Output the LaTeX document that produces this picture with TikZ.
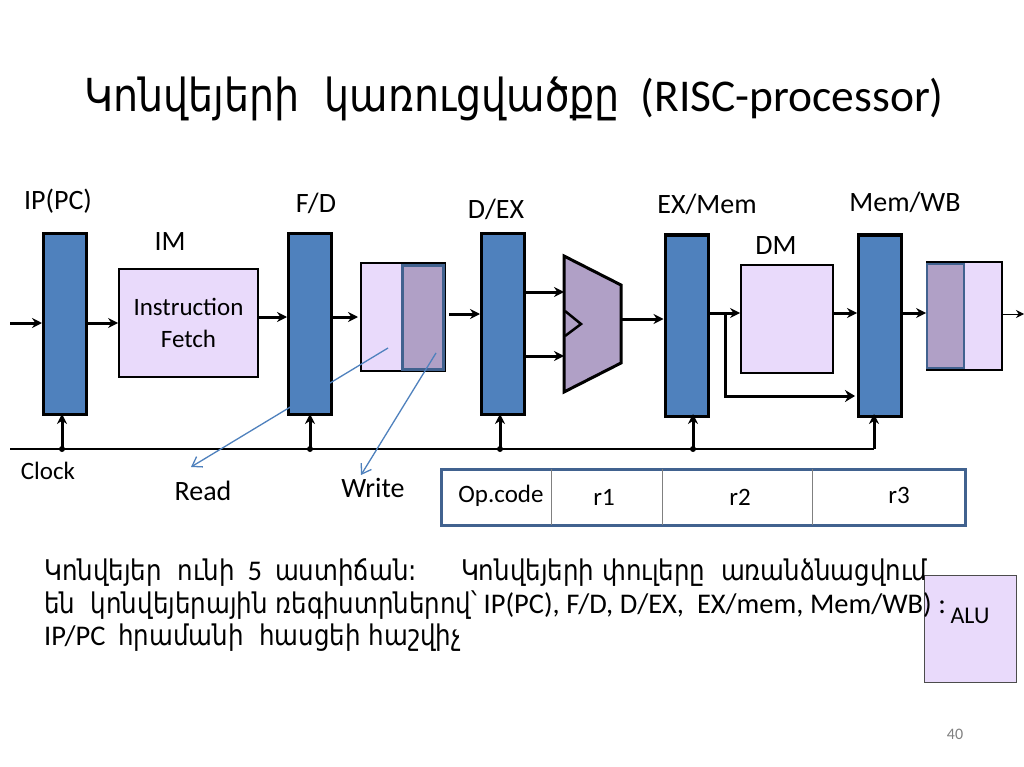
\documentclass[tikz,border=0pt]{standalone}
\usepackage{fontspec}
\usepackage{xcolor}
\setmainfont{Carlito}
\newfontfamily\armfont[FakeStretch=0.86]{DejaVu Sans}
\newfontfamily\armtitle[FakeStretch=0.87]{DejaVu Sans}
\usetikzlibrary{arrows.meta}
\definecolor{regblue}{HTML}{4F81BD}
\definecolor{memlilac}{HTML}{E9DAFB}
\definecolor{darklilac}{HTML}{B0A0C6}
\definecolor{edgeblue}{HTML}{41628F}
\tikzset{
regbox/.style={draw=black,line width=3pt,fill=regblue,minimum width=43pt,minimum height=181pt,inner sep=0pt},
membox/.style={draw=black,line width=1.8pt,fill=memlilac,inner sep=0pt,align=center,font=\fontsize{25}{30}\selectfont},
halfbox/.style={draw=edgeblue,line width=2.4pt,fill=darklilac,inner sep=0pt,minimum width=41pt,minimum height=104pt},
flow/.style={line width=3pt,-{Stealth[length=10pt,width=10pt]}},
pointer/.style={draw=regblue,line width=1.3pt,-{Straight Barb[length=9pt,width=12pt]}},
txtlab/.style={inner sep=0pt,font=\fontsize{28}{32}\selectfont},
bodytxt/.style={inner sep=0pt,anchor=base west,font=\fontsize{28.5}{33}\selectfont},
fieldtxt/.style={inner sep=0pt,font=\fontsize{25}{30}\selectfont}
}
\begin{document}
\begin{tikzpicture}[x=1pt,y=-1pt]
\useasboundingbox[fill=white](0,0)rectangle(1024,767);
\node[inner sep=0pt,anchor=base west,font=\fontsize{45.5}{52}\selectfont](title)at(84,112){{\armtitle Կոնվեյերի\ \ կառուցվածքը}\ \ (RISC-processor)};
% pipeline registers
\node[regbox](ipreg)at(65,324){};
\node[regbox](fdreg)at(310,324){};
\node[regbox](dexreg)at(503,324){};
\node[regbox](exmreg)at(686.5,325.5){};
\node[regbox](mwbreg)at(880,325.5){};
\node[txtlab](iplab)at(58,201){IP(PC)};
\node[txtlab](fdlab)at(316,203){F/D};
\node[txtlab](dexlab)at(496,209){D/EX};
\node[txtlab](exmlab)at(707,204){EX/Mem};
\node[txtlab](mwblab)at(905,202){Mem/WB};
\node[txtlab](imlab)at(170,242){IM};
\node[txtlab](dmlab)at(776,246){DM};
% memories
\node[membox,minimum width=139pt,minimum height=108pt](imbox)at(188.5,323){Instruction\\[2pt]Fetch};
\node[membox,minimum width=84pt,minimum height=108pt](regrd)at(403,317){};
\node[halfbox](regrdh)at(423,317.5){};
\node[membox,minimum width=92pt,minimum height=108pt](dmbox)at(787,319){};
\node[membox,minimum width=75pt,minimum height=108pt](regwb)at(964.5,316){};
\node[halfbox,minimum width=37pt](regwbh)at(945.5,316){};
% ALU
\coordinate(muxa)at(564,256);
\coordinate(muxb)at(621,285);
\coordinate(muxc)at(621,363);
\coordinate(muxd)at(564,392);
\coordinate(muxe)at(565,311);
\coordinate(muxf)at(581,324);
\coordinate(muxg)at(565,336);
\draw[line width=3pt,fill=darklilac,line join=miter](muxa)--(muxb)--(muxc)--(muxd)--cycle;
\draw[line width=2.5pt](muxe)--(muxf)--(muxg);
% data path
\coordinate(instart)at(10,323);
\coordinate(wbend)at(1024,314);
\coordinate(dexout)at(449,314);
\draw[flow](instart)--(ipreg.west|-instart);
\draw[flow](ipreg.east|-instart)--(imbox.west|-instart);
\draw[flow](imbox.east|-0,317)--(fdreg.west|-0,317);
\draw[flow](fdreg.east|-0,317)--(358,317);
\draw[flow](dexout)--(dexreg.west|-dexout);
\draw[flow](dexreg.east|-0,292)--(muxa|-0,292);
\draw[flow](dexreg.east|-0,356)--(muxa|-0,356);
\draw[flow](muxb|-0,319)--(exmreg.west|-0,319);
\draw[flow](exmreg.east|-0,313)--(dmbox.west|-0,313);
\draw[flow](dmbox.east|-0,313)--(mwbreg.west|-0,313);
\draw[flow](mwbreg.east|-0,313)--(regwb.west|-0,313);
\draw[line width=1pt,-{Stealth[length=8pt,width=8pt]}](regwb.east|-wbend)--(wbend);
\draw[line width=3pt,-{Stealth[length=10pt,width=12pt]}](725,313)--(725,396)--(855,396);
% clock
\coordinate(clka)at(10,449);
\coordinate(clkb)at(874,449);
\draw[line width=2.5pt](clka)--(clkb);
\foreach \r/\x in {ipreg/62,fdreg/310,dexreg/500,exmreg/693,mwbreg/874}{
\draw[flow](\x,449)--(\x,414);
}
\foreach \x in {62,310,500,693}{
\fill(\x,449)circle(3);
}
\node[inner sep=0pt,font=\fontsize{25}{30}\selectfont](clklab)at(48,471){Clock};
\node[txtlab](rdlab)at(203,491){Read};
\node[txtlab](wrlab)at(373,488){Write};
\coordinate(rdtip)at(191,467);
\coordinate(wrtip)at(361,475);
\coordinate(rdfrom)at(388,348);
\coordinate(wrfrom)at(436,353);
\draw[pointer](rdfrom)--(rdtip);
\draw[pointer](wrfrom)--(wrtip);
% instruction format
\node[draw=edgeblue,line width=3pt,minimum width=524pt,minimum height=56pt,inner sep=0pt](fmtbox)at(703,497){};
\foreach \x in {551,662,812}{
\draw[gray,line width=1pt](\x,469)--(\x,525);
}
\node[fieldtxt](opfld)at(501,496){Op.code};
\node[fieldtxt](ronefld)at(604,497){r1};
\node[fieldtxt](rtwofld)at(740,497){r2};
\node[fieldtxt](rthreefld)at(899,495){r3};
% text below
\node[draw=black!70,line width=1pt,fill=memlilac,minimum width=92pt,minimum height=107pt,inner sep=0pt](alubox)at(970,628.5){};
\node[inner sep=0pt,font=\fontsize{24}{28}\selectfont](alulab)at(970,616){ALU};
\node[bodytxt](bodya)at(44,580){{\armfont Կոնվեյեր\ \ ունի}\ \ 5\ \ {\armfont աստիճան:\quad\ \ Կոնվեյերի փուլերը\ \ առանձնացվում}};
\node[bodytxt](bodyb)at(44,613){{\armfont են\ \ կոնվեյերային ռեգիստրներով՝} IP(PC), F/D, D/EX,\ \ EX/mem, Mem/WB) :};
\node[bodytxt](bodyc)at(44,645){IP/PC\ \ {\armfont հրամանի\ \ հասցեի հաշվիչ}};
\node[inner sep=0pt,text=gray,font=\fontsize{16}{20}\selectfont](pageno)at(955,734){40};
\end{tikzpicture}
\end{document}
